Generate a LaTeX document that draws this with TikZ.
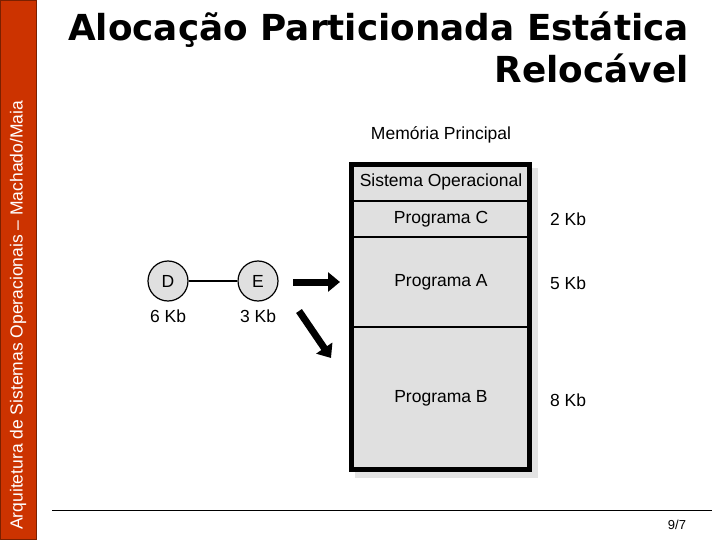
\documentclass[tikz,border=0pt]{standalone}
\usepackage{fontspec}
\setmainfont{Liberation Sans}
\newfontfamily\titlefont{DejaVu Sans}
\usetikzlibrary{arrows.meta}
\definecolor{sidebar}{HTML}{CC3300}
\definecolor{sideborder}{HTML}{7A2000}
\definecolor{memfill}{HTML}{E0E0E0}
\tikzset{
  lbl/.style={font=\fontsize{17.5}{20}\selectfont, inner sep=0pt},
  proc/.style={circle, draw, line width=1.2pt, fill=memfill, minimum size=40pt, inner sep=0pt, font=\fontsize{17.5}{20}\selectfont},
  bigarrow/.style={line width=7pt, -{Triangle[length=12pt,width=19pt]}},
}
\begin{document}
\begin{tikzpicture}[x=1pt,y=-1pt]
\useasboundingbox (0,0) rectangle (720,540);
\fill[white] (0,0) rectangle (720,540);
% sidebar
\draw[fill=sidebar, draw=sideborder, line width=1pt] (0.5,0.5) rectangle (36,539.5);
\node[rotate=90, text=white, font=\fontsize{17.5}{20}\selectfont, anchor=west, inner sep=0pt] (side) at (18,530) {Arquitetura de Sistemas Operacionais -- Machado/Maia};
% title
\node[font=\titlefont\bfseries\fontsize{35.8}{42}\selectfont, align=right, anchor=north east, inner sep=0pt] (title) at (689,12) {Alocação Particionada Estática\\Relocável};
% memory
\node[lbl] (memlbl) at (441,135) {Memória Principal};
\fill[black!18, opacity=0.6] (355,168) rectangle (538,478);
\draw[fill=memfill, line width=5pt] (351.5,164.5) rectangle (529.5,469.5);
\coordinate (l1) at (354,201); \coordinate (r1) at (527,201);
\coordinate (l2) at (354,237); \coordinate (r2) at (527,237);
\coordinate (l3) at (354,327); \coordinate (r3) at (527,327);
\draw[line width=2.5pt] (l1) -- (r1);
\draw[line width=2.5pt] (l2) -- (r2);
\draw[line width=2.5pt] (l3) -- (r3);
\node[lbl] (so) at (441,182) {Sistema Operacional};
\node[lbl] (pc) at (441,219) {Programa C};
\node[lbl] (pa) at (441,282) {Programa A};
\node[lbl] (pb) at (441,398) {Programa B};
\node[lbl] (kc) at (568,219) {2 Kb};
\node[lbl] (ka) at (568,283) {5 Kb};
\node[lbl] (kb) at (568,400) {8 Kb};
% processes
\node[proc] (D) at (168,281) {D};
\node[proc] (E) at (258,281) {E};
\draw[line width=1.2pt] (D) -- (E);
\node[lbl] (d6) at (168,316) {6 Kb};
\node[lbl] (e3) at (258,316) {3 Kb};
\coordinate (a1s) at (293,282); \coordinate (a1e) at (340,282);
\draw[bigarrow] (a1s) -- (a1e);
\coordinate (a2s) at (299,311); \coordinate (a2e) at (331,358);
\draw[bigarrow] (a2s) -- (a2e);
% footer
\coordinate (f1) at (52,510); \coordinate (f2) at (712,510);
\draw[line width=0.8pt] (f1) -- (f2);
\node[font=\fontsize{13}{15}\selectfont, inner sep=0pt] (pg) at (677,525) {9/7};
\end{tikzpicture}
\end{document}
